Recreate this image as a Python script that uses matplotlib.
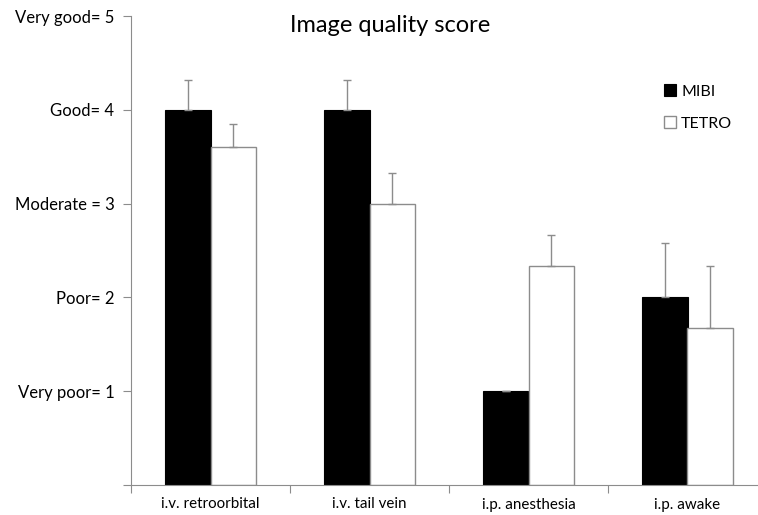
import numpy as np
import matplotlib.pyplot as plt

plt.rcParams['font.family'] = ['Lato', 'DejaVu Sans']

# data
groups = ['i.v. retroorbital', 'i.v. tail vein', 'i.p. anesthesia', 'i.p. awake']
mibi = [4.0, 4.0, 1.0, 2.0]
mibi_err = [0.32, 0.32, 0.0, 0.58]
tetro = [3.6, 3.0, 2.33, 1.67]
tetro_err = [0.25, 0.33, 0.34, 0.67]
score_ticks = [1, 2, 3, 4, 5]
score_labels = ['Very poor= 1', 'Poor= 2', 'Moderate = 3', 'Good= 4', 'Very good= 5']

gray = '#8c8c8c'

fig = plt.figure(figsize=(7.58, 5.15), dpi=100)
# axis runs past the right edge (cropped, like the original)
ax = fig.add_axes([131/758, 30/515, 636/758, 469/515])

x = np.arange(len(groups))
w = 0.285
ax.bar(x - w/2, mibi, w, color='black', edgecolor='black', linewidth=0.8,
       label='MIBI', zorder=2)
ax.bar(x + w/2, tetro, w, color='white', edgecolor=gray, linewidth=1.0,
       label='TETRO', zorder=2)

# one-sided (upper) error bars
ax.errorbar(x - w/2, mibi, yerr=[np.zeros(4), mibi_err], fmt='none',
            ecolor=gray, elinewidth=1.0, capsize=3, capthick=1.0, zorder=3)
ax.errorbar(x + w/2, tetro, yerr=[np.zeros(4), tetro_err], fmt='none',
            ecolor=gray, elinewidth=1.0, capsize=3, capthick=1.0, zorder=3)

ax.set_xlim(-0.5, 3.5)
ax.set_ylim(0, 5)

ax.set_yticks([0] + score_ticks)
ax.set_yticklabels([''] + score_labels, fontsize=12)
ax.tick_params(axis='y', direction='out', length=6, color=gray, width=0.8, pad=6)

ax.set_xticks(x)
ax.set_xticklabels(groups, fontsize=10.9)
ax.set_xticks(np.arange(-0.5, 4.0, 1.0), minor=True)
ax.tick_params(axis='x', which='major', length=0, pad=9)
ax.tick_params(axis='x', which='minor', direction='out', length=6, color=gray, width=0.8)

for s in ['top', 'right']:
    ax.spines[s].set_visible(False)
for s in ['left', 'bottom']:
    ax.spines[s].set_color(gray)
    ax.spines[s].set_linewidth(0.8)

fig.text(390/758, 1 - 25/515, 'Image quality score', fontsize=17,
         ha='center', va='center')

fig.legend(loc='upper left', bbox_to_anchor=(650/758, 1 - 70/515),
           frameon=False, fontsize=11.5, handlelength=0.75, handleheight=0.75,
           handletextpad=0.3, labelspacing=1.1)

fig.savefig('out.png', dpi=100)
